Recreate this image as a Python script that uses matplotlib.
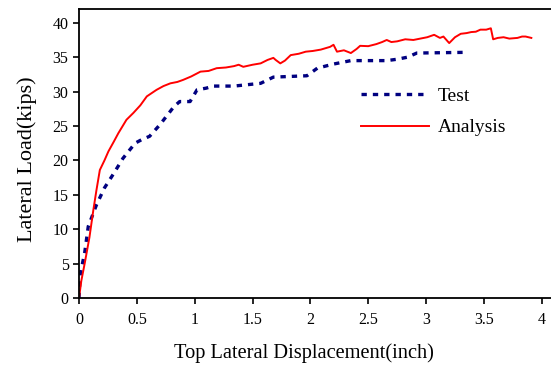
import numpy as np
import matplotlib.pyplot as plt

plt.rcParams['font.family'] = ['Liberation Serif', 'DejaVu Serif']

# Analysis curve (red)
ana_x = [0.0, 0.02, 0.05, 0.09, 0.124, 0.15, 0.18, 0.22, 0.254, 0.30, 0.34, 0.41, 0.47,
         0.53, 0.586, 0.63, 0.67, 0.73, 0.79, 0.85, 0.90, 0.97, 1.05, 1.12, 1.19, 1.27,
         1.34, 1.38, 1.42, 1.50, 1.57, 1.63, 1.68, 1.70, 1.74, 1.78, 1.83, 1.90, 1.96,
         2.02, 2.09, 2.13, 2.17, 2.20, 2.23, 2.29, 2.35, 2.40, 2.43, 2.50, 2.57, 2.62,
         2.66, 2.70, 2.75, 2.82, 2.89, 2.95, 3.01, 3.07, 3.12, 3.15, 3.20, 3.25, 3.30,
         3.35, 3.39, 3.43, 3.47, 3.52, 3.56, 3.58, 3.62, 3.67, 3.72, 3.79, 3.83, 3.86, 3.91]
ana_y = [0.0, 2.5, 5.1, 8.8, 12.8, 15.6, 18.6, 20.0, 21.3, 22.7, 23.95, 25.9, 26.9,
         28.0, 29.3, 29.8, 30.25, 30.8, 31.2, 31.4, 31.7, 32.2, 32.9, 33.0, 33.4, 33.5,
         33.7, 33.9, 33.6, 33.9, 34.1, 34.6, 34.9, 34.6, 34.1, 34.5, 35.3, 35.5, 35.8,
         35.9, 36.1, 36.3, 36.5, 36.8, 35.8, 36.0, 35.6, 36.2, 36.65, 36.6, 36.9, 37.2,
         37.5, 37.2, 37.3, 37.6, 37.5, 37.7, 37.9, 38.25, 37.8, 38.0, 37.05, 37.9, 38.4,
         38.5, 38.65, 38.7, 39.0, 39.0, 39.2, 37.6, 37.8, 37.9, 37.7, 37.8, 38.0, 38.0, 37.8]

# Test curve (blue)
test_x = [0.0, 0.01, 0.05, 0.08, 0.15, 0.22, 0.30, 0.38, 0.485, 0.54, 0.61, 0.70, 0.82,
          0.87, 0.96, 1.02, 1.10, 1.16, 1.34, 1.57, 1.68, 1.97, 2.06, 2.20, 2.35, 2.66,
          2.75, 2.84, 2.92, 3.33]
test_y = [0.0, 3.35, 6.7, 10.4, 13.5, 16.0, 18.1, 20.3, 22.5, 23.0, 23.5, 25.2, 27.8,
          28.55, 28.55, 30.25, 30.5, 30.8, 30.8, 31.2, 32.1, 32.3, 33.4, 34.0, 34.5, 34.5,
          34.7, 35.0, 35.6, 35.7]

fig = plt.figure(figsize=(5.51, 3.65), dpi=100)
ax = fig.add_axes([0.1434, 0.1836, 0.8566, 0.7917])

ax.plot(test_x, test_y, color='#000080', lw=2.4, dashes=(1.6, 1.8), label='Test')
ax.plot(ana_x, ana_y, color='#ff0000', lw=1.4, label='Analysis')

ax.set_xlim(0, 4.08)
ax.set_ylim(0, 42)
ax.set_xticks(np.arange(0, 4.01, 0.5))
ax.set_xticklabels(['0', '0.5', '1', '1.5', '2', '2.5', '3', '3.5', '4'])
ax.set_yticks(range(0, 41, 5))
ax.tick_params(labelsize=11.5, length=4, width=1.2, direction='out')
ax.tick_params(axis='x', pad=6)
ax.spines['right'].set_visible(False)
for s in ['left', 'bottom', 'top']:
    ax.spines[s].set_linewidth(1.3)

ax.set_xlabel('Top Lateral Displacement(inch)', fontsize=14.7)
ax.xaxis.set_label_coords(0.477, -0.155)
ax.set_ylabel('Lateral Load(kips)', fontsize=16)
ax.yaxis.set_label_coords(-0.09, 0.48)

ax.legend(loc='upper left', bbox_to_anchor=(0.58, 0.755), frameon=False, fontsize=14,
          handlelength=3.5, handletextpad=0.45, labelspacing=0.7, borderaxespad=0)

plt.savefig('out.png', dpi=100)
